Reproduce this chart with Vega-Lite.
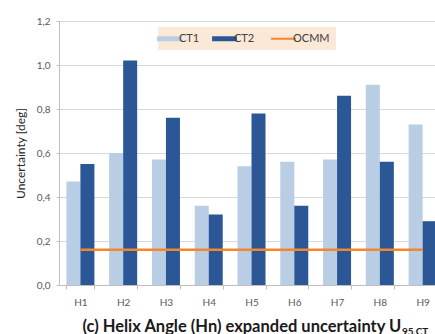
{
  "$schema": "https://vega.github.io/schema/vega-lite/v6.json",
  "autosize": {"type": "none"},
  "padding": {"left": 59, "top": 21, "right": 0, "bottom": 49},
  "width": 376,
  "height": 264,
  "background": "white",
  "config": {
    "font": "Lato",
    "view": {"stroke": null}
  },
  "title": {
    "text": "95,CT",
    "orient": "top",
    "anchor": "start",
    "frame": "group",
    "font": "Lato",
    "fontSize": 10,
    "fontWeight": "bold",
    "color": "#1a1a1a",
    "baseline": "alphabetic",
    "dx": 343,
    "dy": 333
  },
  "data": {
    "values": [
      {"h": "H1", "series": "CT1", "value": 0.47},
      {"h": "H1", "series": "CT2", "value": 0.55},
      {"h": "H2", "series": "CT1", "value": 0.6},
      {"h": "H2", "series": "CT2", "value": 1.02},
      {"h": "H3", "series": "CT1", "value": 0.57},
      {"h": "H3", "series": "CT2", "value": 0.76},
      {"h": "H4", "series": "CT1", "value": 0.36},
      {"h": "H4", "series": "CT2", "value": 0.32},
      {"h": "H5", "series": "CT1", "value": 0.54},
      {"h": "H5", "series": "CT2", "value": 0.78},
      {"h": "H6", "series": "CT1", "value": 0.56},
      {"h": "H6", "series": "CT2", "value": 0.36},
      {"h": "H7", "series": "CT1", "value": 0.57},
      {"h": "H7", "series": "CT2", "value": 0.86},
      {"h": "H8", "series": "CT1", "value": 0.91},
      {"h": "H8", "series": "CT2", "value": 0.56},
      {"h": "H9", "series": "CT1", "value": 0.73},
      {"h": "H9", "series": "CT2", "value": 0.29},
      {"h": "H1", "series": "OCMM", "value": 0.16},
      {"h": "H2", "series": "OCMM", "value": 0.16},
      {"h": "H3", "series": "OCMM", "value": 0.16},
      {"h": "H4", "series": "OCMM", "value": 0.16},
      {"h": "H5", "series": "OCMM", "value": 0.16},
      {"h": "H6", "series": "OCMM", "value": 0.16},
      {"h": "H7", "series": "OCMM", "value": 0.16},
      {"h": "H8", "series": "OCMM", "value": 0.16},
      {"h": "H9", "series": "OCMM", "value": 0.16}
    ]
  },
  "encoding": {
    "x": {
      "field": "h",
      "type": "nominal",
      "sort": null,
      "scale": {"range": [0, 385], "paddingInner": 0.345, "paddingOuter": 0.1725},
      "axis": {
        "title": "(c) Helix Angle (Hn) expanded uncertainty U",
        "titleFont": "Lato",
        "titleFontSize": 16.5,
        "titleFontWeight": "bold",
        "titleColor": "#1a1a1a",
        "titleAnchor": "start",
        "titleAlign": "left",
        "titleBaseline": "alphabetic",
        "titleX": 23,
        "titleY": 46,
        "labelAngle": 0,
        "labelFont": "Lato",
        "labelFontSize": 10,
        "labelColor": "#595959",
        "labelPadding": 8,
        "domainColor": "#bfbfbf",
        "tickColor": "#bfbfbf",
        "tickSize": 4,
        "tickBand": "extent",
        "grid": false
      }
    },
    "y": {
      "field": "value",
      "type": "quantitative",
      "scale": {"domain": [0, 1.2], "nice": false},
      "axis": {
        "title": "Uncertainty [deg]",
        "titleFont": "Lato",
        "titleFontSize": 12,
        "titleFontWeight": "normal",
        "titleColor": "#262626",
        "titlePadding": 9,
        "values": [0, 0.2, 0.4, 0.6, 0.8, 1.0, 1.2],
        "labelExpr": "replace(format(datum.value, '.1f'), '.', ',')",
        "labelFont": "Lato",
        "labelFontSize": 10,
        "labelColor": "#595959",
        "labelPadding": 6,
        "domainColor": "#bfbfbf",
        "tickColor": "#bfbfbf",
        "tickSize": 3,
        "gridColor": "#d9d9d9"
      }
    },
    "color": {
      "field": "series",
      "type": "nominal",
      "scale": {"domain": ["CT1", "CT2", "OCMM"], "range": ["#b9cde5", "#2b5797", "#f5862a"]},
      "legend": {
        "title": null,
        "orient": "none",
        "direction": "horizontal",
        "legendX": 99,
        "legendY": 6,
        "fillColor": "#fbe8d6",
        "padding": 6,
        "columnPadding": 12,
        "labelFont": "Lato",
        "labelFontSize": 11,
        "labelColor": "#404040",
        "labelOffset": 4,
        "symbolSize": 620,
        "encode": {
          "symbols": {
            "update": {
              "shape": {"signal": "datum.value === 'OCMM' ? 'M-1,0H1' : 'M-1,-0.2H1V0.2H-1Z'"},
              "fill": {"signal": "datum.value === 'OCMM' ? 'transparent' : scale('color', datum.value)"},
              "stroke": {"signal": "scale('color', datum.value)"},
              "strokeWidth": {"signal": "datum.value === 'OCMM' ? 2 : 0"},
              "opacity": {"value": 1}
            }
          }
        }
      }
    }
  },
  "layer": [
    {
      "transform": [{"filter": "datum.series !== 'OCMM'"}],
      "mark": {"type": "bar"},
      "encoding": {
        "xOffset": {"field": "series", "type": "nominal", "scale": {"paddingInner": 0, "paddingOuter": 0}}
      }
    },
    {
      "transform": [{"filter": "datum.series === 'OCMM'"}],
      "mark": {"type": "line", "strokeWidth": 2.5},
      "encoding": {}
    }
  ]
}
